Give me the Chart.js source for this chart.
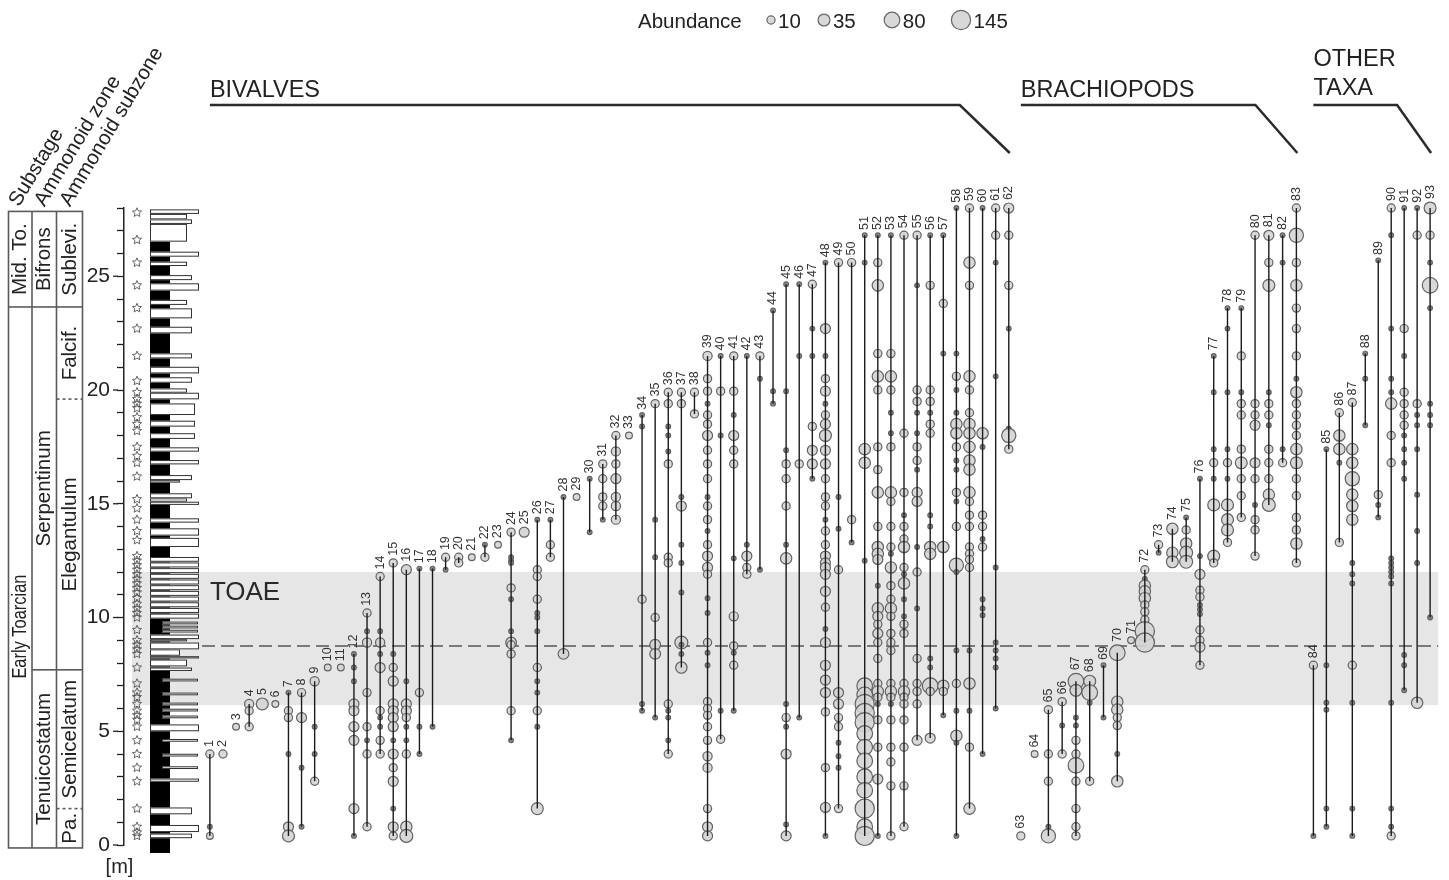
<!DOCTYPE html>
<html>
<head>
<meta charset="utf-8">
<title>Toarcian macrobenthos range chart</title>
<script src="https://cdn.jsdelivr.net/npm/chart.js@4.4.1/dist/chart.umd.min.js"></script>
<style>
  html, body { margin: 0; padding: 0; background: #fff; }
  #wrap { width: 1449px; height: 880px; position: relative; }
</style>
</head>
<body>
<div id="wrap"><canvas id="chart" width="1449" height="880"></canvas></div>
<script>
// ---- Occurrences: one list per taxon, each entry is [height in m, abundance] ----
const bivalves = [
  [[4.0,10],[0.8,1],[0.4,5]],
  [[4.0,10]],
  [[5.2,5]],
  [[6.2,15],[5.9,10],[5.2,10]],
  [[6.2,35]],
  [[6.2,5]],
  [[6.7,1],[5.9,10],[5.6,10],[4.0,1],[0.8,20],[0.4,35]],
  [[6.7,10],[5.6,20],[3.4,1],[0.8,1]],
  [[7.2,15],[5.2,1],[4.0,1],[2.8,10]],
  [[7.8,5]],
  [[7.8,5]],
  [[8.4,1],[7.8,1],[7.2,1],[6.2,20],[5.9,20],[5.2,20],[4.6,20],[1.6,20],[0.4,1]],
  [[10.2,10],[9.4,1],[8.9,15],[6.7,10],[5.2,10],[4.6,1],[4.0,10],[0.8,10]],
  [[11.8,10],[9.4,1],[8.9,15],[8.4,1],[7.8,20],[5.9,10],[5.6,1],[5.2,1],[4.6,10],[4.0,10]],
  [[12.4,10],[8.4,1],[7.8,10],[7.2,20],[6.2,20],[5.9,20],[5.6,20],[5.2,20],[4.6,1],[4.0,20],[3.4,10],[2.8,20],[1.6,1],[0.8,20],[0.4,10]],
  [[12.1,20],[7.2,1],[6.2,20],[5.9,20],[5.6,10],[5.2,1],[4.6,1],[4.0,10],[0.8,30],[0.4,45]],
  [[12.15,1],[6.7,10],[5.2,1],[4.0,1]],
  [[12.15,1],[5.2,1]],
  [[12.65,10],[12.1,1]],
  [[12.65,10],[12.4,10]],
  [[12.65,5]],
  [[13.2,1],[12.65,10]],
  [[13.2,5]],
  [[13.75,10],[12.65,1],[12.5,1],[12.4,1],[11.3,10],[10.8,1],[9.4,1],[8.9,25],[8.8,10],[8.4,10],[5.9,10],[4.6,1]],
  [[13.75,20]],
  [[14.3,1],[12.1,10],[11.8,10],[10.8,10],[10.2,1],[10.0,1],[9.4,1],[7.8,10],[7.2,1],[6.7,1],[5.9,10],[5.2,1],[1.6,35]],
  [[14.3,1],[13.2,10],[12.65,10]],
  [[15.3,1],[8.4,25]],
  [[15.3,5]],
  [[16.1,1],[13.75,1]],
  [[16.75,10],[16.1,10],[15.3,10],[14.9,10],[14.3,1]],
  [[18.0,10],[17.3,15],[16.75,10],[16.1,20],[15.3,15],[14.9,15],[14.3,15]],
  [[18.0,5]],
  [[18.9,1],[18.4,1],[10.8,10],[6.2,1],[5.9,1]],
  [[19.4,10],[14.3,1],[12.65,1],[10.0,10],[8.8,25],[8.4,25],[5.6,1]],
  [[19.9,10],[19.4,10],[18.4,1],[18.0,1],[17.3,1],[16.75,10],[12.65,10],[12.4,10],[6.2,10],[5.9,1],[5.6,1],[4.6,1],[4.0,10]],
  [[19.9,10],[19.4,10],[15.3,1],[14.9,20],[13.2,1],[12.4,1],[11.1,1],[8.9,45],[8.8,1],[8.4,1],[7.8,30]],
  [[19.9,10],[18.95,10]],
  [[21.5,15],[20.5,10],[19.95,10],[19.4,1],[18.9,10],[18.5,10],[18.0,20],[17.35,10],[16.75,10],[16.1,10],[15.3,1],[14.9,10],[14.3,10],[13.8,1],[13.2,10],[12.7,20],[12.2,20],[11.9,10],[10.85,1],[10.2,1],[8.9,10],[8.45,1],[7.9,1],[6.3,10],[6.0,10],[5.7,10],[5.2,10],[4.6,10],[3.9,15],[3.4,15],[1.6,10],[0.8,20],[0.4,20]],
  [[21.5,1],[19.95,10],[18.0,1],[5.9,1],[4.65,10]],
  [[21.5,10],[19.95,10],[18.9,1],[18.0,20],[17.35,10],[16.75,10],[12.6,1],[10.05,15],[8.75,10],[8.45,1],[7.9,10],[5.9,1]],
  [[21.5,1],[13.2,1],[12.7,20],[12.2,10],[11.9,10]],
  [[21.5,10],[20.5,1],[12.1,1]],
  [[23.5,1],[19.95,1],[19.4,1]],
  [[24.65,1],[19.95,1],[17.35,1],[16.75,10],[16.1,10],[14.9,10],[13.2,1],[12.6,30],[6.2,1],[5.6,10],[5.2,1],[4.0,20],[0.9,1],[0.4,20]],
  [[24.65,1],[21.5,1],[16.75,10],[5.6,1]],
  [[24.65,10],[22.7,1],[21.5,1],[18.4,10],[17.35,20],[16.75,20],[16.1,1]],
  [[25.6,1],[22.7,20],[21.5,1],[20.5,10],[19.95,20],[19.4,1],[18.9,10],[18.5,20],[18.0,35],[17.35,20],[16.75,20],[16.1,10],[15.3,10],[14.9,10],[14.3,1],[13.8,10],[13.2,10],[12.7,20],[12.4,20],[12.2,20],[11.9,20],[11.15,20],[10.45,10],[9.5,1],[8.9,20],[7.9,20],[7.25,20],[6.7,20],[5.85,10],[3.4,10],[1.65,20],[0.4,1]],
  [[25.6,10],[15.3,1],[13.9,1],[12.1,10],[6.7,20],[6.2,20],[5.6,10],[5.2,10],[4.5,1],[3.9,1],[3.4,1],[1.6,10]],
  [[25.6,10],[14.3,10],[13.3,1]],
  [[26.8,1],[25.6,1],[17.4,30],[16.8,30],[12.5,1],[7.0,80],[6.6,80],[6.2,145],[5.8,145],[5.4,145],[4.9,80],[4.3,80],[3.7,80],[3.0,80],[2.4,80],[1.6,145],[0.8,80],[0.4,145]],
  [[26.8,1],[25.6,10],[24.6,30],[21.6,10],[20.6,30],[20.0,10],[17.5,10],[16.5,10],[15.5,30],[14.0,10],[13.1,30],[12.8,30],[12.55,20],[11.4,1],[10.4,30],[10.05,20],[9.7,10],[9.3,20],[8.9,10],[8.2,10],[7.1,10],[6.75,30],[6.5,10],[6.2,1],[5.5,10],[4.3,10],[2.9,20],[0.4,1]],
  [[26.8,1],[21.6,10],[20.6,30],[20.0,10],[19.0,1],[18.1,1],[17.5,10],[15.5,30],[15.1,10],[14.0,10],[13.1,10],[12.8,1],[12.2,30],[11.4,10],[10.8,10],[10.4,30],[10.05,10],[9.3,10],[8.9,10],[8.55,10],[7.1,10],[6.75,30],[6.5,10],[6.2,1],[5.5,10],[4.3,10],[3.65,10],[2.6,10],[0.4,10]],
  [[26.8,10],[18.1,10],[15.5,10],[14.5,1],[14.0,10],[13.45,10],[13.1,30],[12.2,10],[11.9,1],[11.5,30],[10.8,1],[10.05,1],[9.7,10],[9.3,10],[7.1,10],[6.75,30],[6.5,10],[6.2,10],[5.5,10],[4.3,10],[2.6,10],[0.8,10]],
  [[26.8,10],[24.6,1],[20.0,10],[19.5,10],[19.0,1],[18.1,1],[17.5,10],[16.9,10],[16.5,1],[15.5,20],[15.1,20],[13.1,1],[12.0,10],[10.4,1],[8.2,10],[7.1,10],[6.75,10],[6.2,10],[4.6,20]],
  [[26.8,1],[24.6,10],[20.0,10],[19.5,10],[19.0,1],[18.5,10],[18.1,10],[14.5,1],[14.0,1],[13.1,30],[12.8,30],[8.2,1],[7.8,1],[7.0,80],[6.75,10],[4.7,20]],
  [[26.8,1],[23.8,10],[21.6,1],[13.1,30],[7.0,30],[6.75,10],[5.7,1]],
  [[28.0,1],[21.6,1],[20.6,10],[20.0,1],[19.0,1],[18.5,30],[18.1,30],[17.5,10],[16.9,1],[16.5,1],[15.5,10],[15.1,1],[14.0,10],[12.3,60],[12.0,1],[8.55,1],[7.1,10],[5.9,1],[4.8,30],[4.5,1],[0.4,1]],
  [[28.0,10],[25.6,30],[24.6,10],[20.6,30],[20.0,10],[19.0,10],[18.5,30],[18.1,30],[17.5,30],[16.9,30],[16.5,30],[15.5,30],[15.1,10],[14.5,10],[14.0,10],[13.1,10],[12.8,10],[12.55,10],[12.2,10],[8.55,1],[7.1,30],[5.9,1],[4.3,10],[1.6,30]],
  [[28.0,1],[18.1,30],[17.5,1],[14.5,10],[14.0,10],[13.45,1],[13.1,10],[10.8,1],[10.4,1],[10.1,1],[4.0,1]],
  [[28.0,10],[26.8,10],[25.6,1],[20.6,1],[12.2,1],[8.9,1],[8.55,1],[8.2,1],[7.8,1],[6.0,1]],
  [[28.0,20],[26.8,10],[24.6,10],[22.7,1],[18.3,1],[18.0,60],[17.4,10]]
];

const brachiopods = [
  [[0.4,10]],
  [[4.0,5]],
  [[5.95,10],[4.0,10],[2.8,10],[0.8,1],[0.4,60]],
  [[6.3,10],[5.25,1],[4.0,10]],
  [[7.2,80],[6.8,35],[5.6,1],[5.25,1],[4.6,10],[4.0,10],[3.5,80],[2.8,10],[1.6,10],[0.8,10],[0.4,10]],
  [[7.2,35],[6.7,80],[6.25,1],[2.8,10]],
  [[7.9,1],[5.6,1]],
  [[8.45,80],[6.3,30],[5.95,30],[5.6,10],[5.25,10],[4.0,1],[2.8,30]],
  [[9.0,5]],
  [[12.1,10],[11.7,1],[11.4,30],[11.15,30],[10.85,30],[10.55,10],[10.25,10],[9.9,10],[9.4,145],[8.9,145]],
  [[13.2,10],[12.85,1]],
  [[13.9,30],[12.85,30],[12.45,35]],
  [[14.4,1],[13.85,10],[13.25,30],[12.85,45],[12.45,45]],
  [[16.1,1],[12.7,1],[11.9,20],[11.2,10],[10.9,10],[10.55,1],[10.35,1],[10.15,1],[9.45,10],[9.0,10],[8.7,20],[7.9,10]],
  [[21.5,1],[19.9,1],[17.4,1],[16.8,10],[16.1,1],[14.95,35],[12.7,35],[12.4,10]],
  [[23.6,1],[22.7,1],[19.9,1],[17.4,1],[16.8,10],[16.1,1],[14.95,35],[14.3,35],[13.85,35],[13.3,10]],
  [[23.6,1],[21.5,10],[19.9,1],[19.4,10],[18.9,10],[17.4,10],[16.8,35],[16.1,10],[15.35,10],[14.4,10]],
  [[26.8,10],[19.4,10],[18.9,10],[18.45,20],[16.8,20],[16.1,10],[14.95,1],[14.3,10],[13.85,10],[12.7,10]],
  [[26.8,20],[25.6,10],[24.6,35],[19.9,1],[19.4,10],[18.9,10],[18.45,1],[17.4,10],[16.8,10],[16.1,10],[15.4,30],[14.95,45]],
  [[26.8,1],[25.6,1],[17.4,1],[16.8,10]],
  [[28.0,10],[26.8,60],[25.6,10],[24.6,30],[23.6,10],[22.7,10],[21.5,10],[20.5,1],[19.9,30],[19.4,10],[18.9,10],[18.45,10],[18.0,10],[17.4,30],[16.8,35],[16.1,10],[15.35,10],[14.4,10],[13.85,10],[13.25,30],[12.4,10]]
];

const otherTaxa = [
  [[7.9,10],[0.4,1]],
  [[17.4,1],[7.9,1],[6.25,1],[5.95,1],[1.6,1],[0.8,1]],
  [[19.0,10],[18.0,30],[17.4,30],[16.8,1],[13.3,10]],
  [[19.45,10],[17.4,30],[16.8,30],[16.1,60],[15.4,30],[14.9,30],[14.3,30],[12.4,1],[11.9,1],[11.5,1],[7.9,10],[6.25,1],[1.6,1],[0.4,1]],
  [[21.6,1],[20.5,1],[18.45,1]],
  [[25.7,1],[15.4,10],[14.95,1],[14.4,1]],
  [[28.0,10],[26.8,1],[22.7,1],[20.5,1],[19.9,1],[19.4,30],[18.0,10],[16.8,10],[12.6,1],[12.4,1],[12.2,1],[12.0,1],[11.8,1],[11.5,1],[6.25,1],[1.6,1],[0.8,1],[0.4,10]],
  [[28.0,1],[22.7,10],[21.5,1],[19.9,10],[19.4,10],[18.9,10],[18.45,10],[18.0,1],[17.4,1],[16.8,1],[16.1,1],[8.35,1],[7.9,1],[6.8,1]],
  [[28.0,1],[26.8,10],[19.4,10],[18.9,1],[18.45,1],[17.4,1],[15.4,1],[13.8,1],[12.4,1],[6.25,30]],
  [[28.0,35],[26.8,10],[25.6,1],[24.6,80],[23.6,1],[19.4,1],[18.9,1],[18.45,1],[10.0,1]]
];

// Sampled levels (m) marked beside the section
const sampleLevels = [0.4,0.55,0.8,1.6,2.8,3.4,4.0,4.6,5.2,5.5,5.7,5.9,6.2,6.5,6.7,7.1,7.8,8.4,8.6,8.8,9.0,9.45,
  10.0,10.2,10.4,10.6,10.85,11.1,11.3,11.5,11.7,11.9,12.1,12.3,12.5,12.7,13.4,13.8,14.3,14.8,15.2,16.2,16.8,17.1,
  17.5,18.2,18.5,18.8,19.2,19.4,19.6,19.9,20.4,21.5,22.7,23.6,24.6,25.6,26.6,27.8];

// Limestone beds: [base m, top m, weathering relief 1..5]
const limestoneBeds = [
  [0.30,0.50,3],[0.57,0.88,5],[1.35,1.65,3],[2.78,2.92,5],[5.0,5.3,5],
  [7.65,7.8,3],[7.85,8.15,2],[8.2,8.3,5],[8.32,8.6,1],[8.6,8.9,5],[8.95,9.05,2],[9.05,9.25,5],
  [9.95,10.17,5],[10.2,10.42,5],[10.45,10.67,5],[10.7,10.92,5],[10.95,11.17,5],[11.2,11.42,5],
  [11.45,11.67,5],[11.7,11.92,5],[11.95,12.17,5],[12.2,12.42,5],[12.45,12.66,5],
  [13.1,13.5,5],[13.6,13.92,5],[14.17,14.36,5],[14.95,15.09,5],[15.09,15.24,2],[15.24,15.46,3],
  [15.93,16.04,1],[16.04,16.26,3],[16.73,16.92,5],[17.29,17.48,5],[17.85,18.1,4],[18.39,18.65,4],
  [18.9,19.41,4],[19.59,19.88,5],[19.88,20.07,2],[20.32,20.56,3],[20.73,21.02,5],[21.39,21.61,3],
  [22.49,22.78,3],[23.15,23.59,3],[23.74,23.96,2],[24.37,24.69,5],[24.83,25.05,3],[25.45,25.64,2],
  [25.86,26.08,5],[26.52,27.3,2],[27.3,27.5,3],[27.5,27.74,2],[27.74,27.94,5]
];
// Thin nodular limestone layers inside the marls (m)
const nodularBeds = [3.4,3.95,4.6,5.63,5.93,6.2,6.64,7.25,9.4,9.58,9.76];
const marlInterval = [-0.35, 26.52];

// Biostratigraphy
const substages = [
  { label: 'Mid. To.', base: 23.65, top: 27.85 },
  { label: 'Early Toarcian', base: -0.13, top: 23.65, labelAt: 9.6, squeeze: 104 }
];
const ammonoidZones = [
  { label: 'Bifrons', base: 23.65, top: 27.85 },
  { label: 'Serpentinum', base: 7.7, top: 23.65 },
  { label: 'Tenuicostatum', base: -0.13, top: 7.7 }
];
const ammonoidSubzones = [
  { label: 'Sublevi.', base: 23.65, top: 27.85 },
  { label: 'Falcif.', base: 19.6, top: 23.65, dashedBase: true },
  { label: 'Elegantulum', base: 7.7, top: 19.6 },
  { label: 'Semicelatum', base: 1.6, top: 7.7, dashedBase: true },
  { label: 'Pa.', base: -0.13, top: 1.6 }
];
const columnTitles = ['Substage', 'Ammonoid zone', 'Ammonoid subzone'];

const toaeInterval = [6.15, 12.0];
const toaeMidline = 8.75;
const legendValues = [10, 35, 80, 145];
const yTicks = [0, 5, 10, 15, 20, 25];

// ---- Build chart data ----
const FONT = '"Liberation Sans", Arial, Helvetica, sans-serif';
const INK = '#222';
const radiusFor = a => 1.2 + 1.15 * Math.pow(a, 0.4);

const groups = [
  { lines: ['BIVALVES'], list: bivalves, start: 1, pitch: 1, diag: 49 },
  { lines: ['BRACHIOPODS'], list: brachiopods, start: 62.92, pitch: 1.052, diag: 41 },
  { lines: ['OTHER', 'TAXA'], list: otherTaxa, start: 85.26, pitch: 0.99, diag: 33 }
];

const taxa = [];
let counter = 1;
groups.forEach(g => {
  g.first = counter;
  g.list.forEach((occ, i) => {
    const hs = occ.map(o => o[0]);
    const top = Math.max(...hs);
    taxa.push({
      n: counter, occ, slot: g.start + i * g.pitch,
      top, bottom: Math.min(...hs),
      topR: radiusFor(occ.find(o => o[0] === top)[1])
    });
    counter++;
  });
  g.last = counter - 1;
  g.firstSlot = taxa[g.first - 1].slot;
  g.lastSlot = taxa[g.last - 1].slot;
});

const bubblePoints = [];
const rangePoints = [];
taxa.forEach(t => {
  t.occ.forEach(([h, a]) => bubblePoints.push({ x: t.slot, y: h, r: radiusFor(a) }));
  if (t.occ.length > 1) {
    rangePoints.push({ x: t.slot, y: t.top }, { x: t.slot, y: t.bottom }, { x: t.slot, y: null });
  }
});

function star(ctx, cx, cy, R, r) {
  ctx.beginPath();
  for (let i = 0; i < 10; i++) {
    const ang = -Math.PI / 2 + i * Math.PI / 5;
    const rad = i % 2 ? r : R;
    ctx.lineTo(cx + rad * Math.cos(ang), cy + rad * Math.sin(ang));
  }
  ctx.closePath();
  ctx.stroke();
}

function vText(ctx, text, x, y, font, maxW) {
  ctx.save();
  ctx.translate(x, y);
  ctx.rotate(-Math.PI / 2);
  ctx.font = font;
  if (maxW) ctx.fillText(text, 0, 0, maxW); else ctx.fillText(text, 0, 0);
  ctx.restore();
}

const decor = {
  id: 'decor',
  beforeDatasetsDraw(chart) {
    const { ctx, chartArea: ca, scales: { x, y } } = chart;
    const X = v => x.getPixelForValue(v), Y = v => y.getPixelForValue(v);
    ctx.save();

    // TOAE interval
    ctx.fillStyle = '#e6e6e6';
    const bandTop = Y(toaeInterval[1]), bandBot = Y(toaeInterval[0]);
    ctx.fillRect(ca.left + 8, bandTop, ca.right - ca.left - 8, bandBot - bandTop);
    ctx.fillStyle = '#2a2a2a';
    ctx.font = `26px ${FONT}`;
    ctx.textAlign = 'left';
    ctx.textBaseline = 'alphabetic';
    ctx.fillText('TOAE', X(1), bandTop + 28);

    ctx.strokeStyle = '#7a7a7a';
    ctx.lineWidth = 2;
    ctx.setLineDash([13, 6]);
    ctx.beginPath();
    ctx.moveTo(ca.left + 78, Y(toaeMidline));
    ctx.lineTo(ca.right, Y(toaeMidline));
    ctx.stroke();
    ctx.setLineDash([]);

    // Lithological column
    const colL = ca.left + 26;
    const reliefEdge = [0, 30, 37, 42, 45, 49];
    ctx.fillStyle = '#000';
    ctx.fillRect(colL, Y(marlInterval[1]), 20, Y(marlInterval[0]) - Y(marlInterval[1]));
    ctx.strokeStyle = '#333';
    ctx.lineWidth = 1;
    limestoneBeds.forEach(([b, t, rel]) => {
      const yt = Y(t), yb = Y(b);
      ctx.fillStyle = '#fff';
      ctx.fillRect(colL, yt, reliefEdge[rel], yb - yt);
      ctx.strokeRect(colL + 0.5, yt + 0.5, reliefEdge[rel] - 1, yb - yt - 1);
    });
    nodularBeds.forEach(h => {
      const yt = Y(h + 0.06), yb = Y(h - 0.06);
      ctx.fillStyle = '#fff';
      ctx.fillRect(colL + 12, yt, 36, yb - yt);
      ctx.strokeRect(colL + 12.5, yt + 0.5, 35, yb - yt - 1);
    });

    // Sampled levels
    ctx.strokeStyle = '#555';
    ctx.lineWidth = 0.9;
    sampleLevels.forEach(h => star(ctx, ca.left + 13, Y(h), 4.8, 2.2));

    ctx.restore();
  },

  afterDraw(chart) {
    const { ctx, chartArea: ca, scales: { x, y } } = chart;
    const X = v => x.getPixelForValue(v), Y = v => y.getPixelForValue(v);
    ctx.save();

    // Longer ticks at labelled metres
    ctx.strokeStyle = INK;
    ctx.lineWidth = 1.3;
    yTicks.forEach(v => {
      ctx.beginPath();
      ctx.moveTo(ca.left - 11, Y(v));
      ctx.lineTo(ca.left - 6, Y(v));
      ctx.stroke();
    });
    ctx.fillStyle = INK;
    ctx.font = `20px ${FONT}`;
    ctx.textAlign = 'center';
    ctx.textBaseline = 'alphabetic';
    ctx.fillText('[m]', ca.left - 4.5, 873);

    // Taxon numbers
    ctx.fillStyle = '#333';
    ctx.textAlign = 'left';
    ctx.textBaseline = 'middle';
    taxa.forEach(t => {
      vText(ctx, String(t.n), X(t.slot), Y(t.top) - t.topR - 3, `12.5px ${FONT}`);
    });

    // Group headers
    ctx.fillStyle = '#222';
    ctx.strokeStyle = '#2b2b2b';
    ctx.lineWidth = 2.5;
    ctx.textBaseline = 'alphabetic';
    ctx.textAlign = 'left';
    ctx.font = `23.5px ${FONT}`;
    groups.forEach(g => {
      const x0 = X(g.firstSlot), x1 = X(g.lastSlot);
      if (g.lines.length === 1) {
        ctx.fillText(g.lines[0], x0, 97);
      } else {
        ctx.fillText(g.lines[0], x0, 66);
        ctx.fillText(g.lines[1], x0, 95);
      }
      ctx.beginPath();
      ctx.moveTo(x0, 105);
      ctx.lineTo(x1 - g.diag, 105);
      ctx.lineTo(x1 + 1, 153);
      ctx.stroke();
    });

    // Abundance legend
    ctx.font = `20.5px ${FONT}`;
    ctx.fillStyle = '#222';
    ctx.fillText('Abundance', 638, 28);
    const legendCx = [771, 824, 892, 961];
    legendValues.forEach((v, i) => {
      const r = radiusFor(v);
      ctx.beginPath();
      ctx.arc(legendCx[i], 20, r, 0, Math.PI * 2);
      ctx.fillStyle = 'rgba(212,212,212,0.9)';
      ctx.fill();
      ctx.strokeStyle = '#666';
      ctx.lineWidth = 1.2;
      ctx.stroke();
      ctx.fillStyle = '#222';
      ctx.fillText(String(v), legendCx[i] + r + 3, 28);
    });

    // Biostratigraphic table
    const cols = [8.5, 32, 56.5, 82.5];
    const tTop = Y(27.85), tBot = Y(-0.13);
    ctx.strokeStyle = '#5a5a5a';
    ctx.lineWidth = 1.6;
    ctx.strokeRect(cols[0], tTop, cols[3] - cols[0], tBot - tTop);
    [cols[1], cols[2]].forEach(cx => {
      ctx.beginPath(); ctx.moveTo(cx, tTop); ctx.lineTo(cx, tBot); ctx.stroke();
    });
    const columns = [substages, ammonoidZones, ammonoidSubzones];
    ctx.fillStyle = '#222';
    ctx.textAlign = 'center';
    ctx.textBaseline = 'middle';
    columns.forEach((units, ci) => {
      const xl = cols[ci], xr = cols[ci + 1], xc = (xl + xr) / 2 + 0.5;
      units.forEach(u => {
        if (u.base > -0.13) {
          ctx.setLineDash(u.dashedBase ? [3, 3] : []);
          ctx.beginPath();
          ctx.moveTo(xl, Y(u.base));
          ctx.lineTo(xr, Y(u.base));
          ctx.stroke();
          ctx.setLineDash([]);
        }
        const at = u.labelAt !== undefined ? u.labelAt : (u.base + u.top) / 2;
        vText(ctx, u.label, xc, Y(at), `20.5px ${FONT}`, u.squeeze);
      });
    });

    // Column titles, slanted above each table column
    ctx.textAlign = 'left';
    ctx.textBaseline = 'alphabetic';
    ctx.font = `20.5px ${FONT}`;
    columnTitles.forEach((t, i) => {
      ctx.save();
      ctx.translate(19 + i * 25.5, tTop - 4);
      ctx.rotate(-59 * Math.PI / 180);
      ctx.fillText(t, 0, 0);
      ctx.restore();
    });

    ctx.restore();
  }
};

new Chart(document.getElementById('chart'), {
  type: 'bubble',
  data: {
    datasets: [
      {
        type: 'line',
        data: rangePoints,
        borderColor: '#1c1c1c',
        borderWidth: 1.4,
        pointRadius: 0,
        spanGaps: false,
        fill: false,
        clip: false,
        order: 0
      },
      {
        type: 'bubble',
        data: bubblePoints,
        backgroundColor: ctx => (ctx.raw && ctx.raw.r < 3 ? '#8c8c8c' : 'rgba(212,212,212,0.9)'),
        borderColor: '#626262',
        borderWidth: 1.2,
        hoverRadius: 0,
        clip: false,
        order: 1
      }
    ]
  },
  options: {
    responsive: false,
    animation: false,
    events: [],
    layout: { padding: { top: 208, bottom: 35, left: 0, right: 9 } },
    plugins: { legend: { display: false }, tooltip: { enabled: false } },
    scales: {
      x: { type: 'linear', min: -5.557, max: 94.787, display: false },
      y: {
        type: 'linear', min: 0, max: 28, position: 'left',
        afterFit: s => { s.width = 124; },
        border: { display: true, color: INK, width: 1.5 },
        grid: { drawOnChartArea: false, tickLength: 7, tickColor: INK, tickWidth: 1.3 },
        ticks: {
          stepSize: 1, autoSkip: false, padding: 7, color: INK,
          font: { family: FONT, size: 21 },
          callback: v => (v % 5 === 0 ? String(v) : '')
        }
      }
    }
  },
  plugins: [decor]
});
</script>
</body>
</html>
